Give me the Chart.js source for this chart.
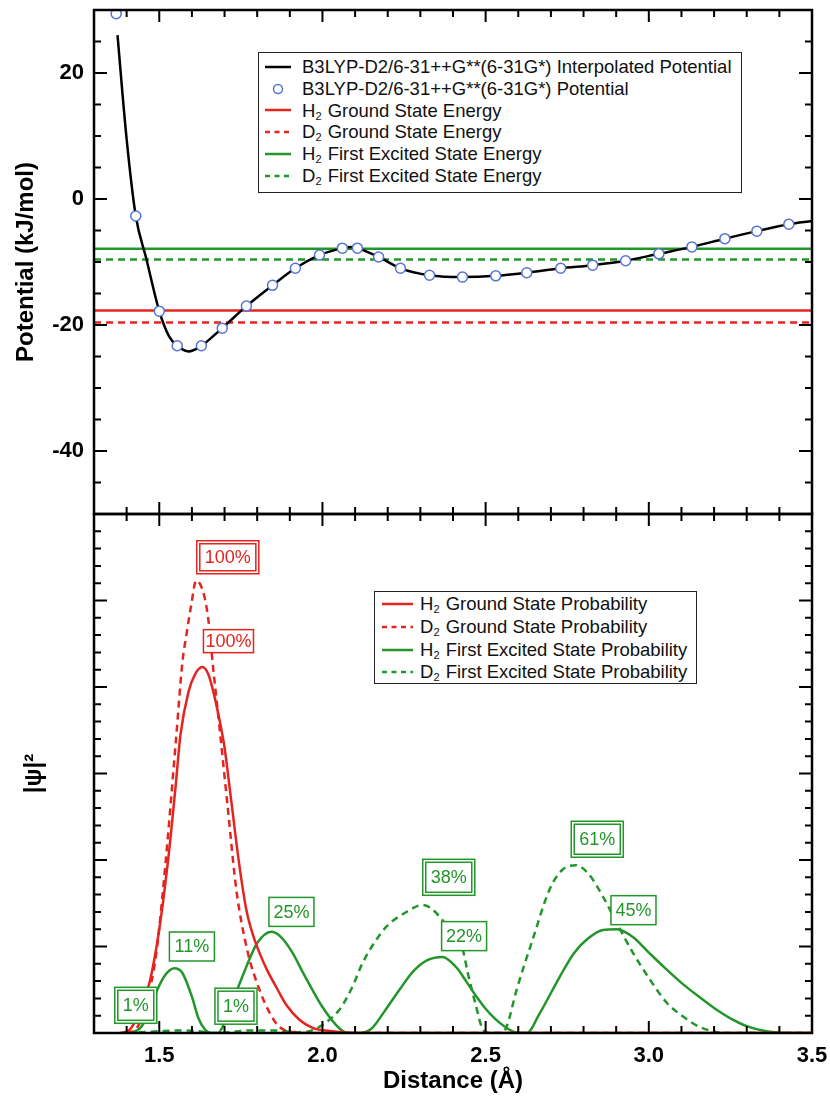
<!DOCTYPE html>
<html>
<head>
<meta charset="utf-8">
<script src="https://cdn.jsdelivr.net/npm/chart.js@4.4.1/dist/chart.umd.min.js"></script>
<style>
  html, body { margin: 0; padding: 0; background: #fff; }
  body { width: 830px; height: 1103px; position: relative; overflow: hidden; font-family: "Liberation Sans", Arial, sans-serif; }
  canvas { position: absolute; left: 0; }
  #potCanvas { top: 0; }
  #probCanvas { top: 504px; }
  .legend { position: absolute; background: #fff; border: 1.5px solid #222; box-sizing: border-box; font-size: 18.5px; color: #111; }
  .legend .row { display: flex; align-items: center; white-space: nowrap; }
  .legend sub { font-size: 11px; vertical-align: -3px; line-height: 0; margin-right: 1px; }
  #potLegend { left: 258px; top: 52px; width: 484px; height: 141px; padding-top: 3px; }
  #potLegend .row { height: 21.8px; }
  #potLegend svg { margin: 0 11px 0 6px; }
  #probLegend { left: 374px; top: 591px; width: 323px; height: 93px; padding-top: 1px; }
  #probLegend .row { height: 22.7px; }
  #probLegend svg { margin: 0 7px 0 7px; }
</style>
</head>
<body>
<canvas id="potCanvas" width="830" height="530"></canvas>
<canvas id="probCanvas" width="830" height="599"></canvas>
<div id="potLegend" class="legend"></div>
<div id="probLegend" class="legend"></div>
<script>
// dados (Å, kJ/mol)
const pontosPotencial = [
  [1.368, 29.4], [1.428, -2.7], [1.500, -17.8], [1.555, -23.3], [1.629, -23.3], [1.693, -20.5],
  [1.767, -17.0], [1.847, -13.7], [1.917, -11.0], [1.991, -8.9], [2.061, -7.8], [2.107, -7.8],
  [2.172, -9.2], [2.239, -11.0], [2.328, -12.1], [2.429, -12.4], [2.531, -12.2], [2.626, -11.7],
  [2.730, -11.0], [2.828, -10.5], [2.929, -9.8], [3.031, -8.7], [3.132, -7.6], [3.233, -6.3],
  [3.331, -5.1], [3.429, -4.0]
];
const curvaInterpolada = [
  [1.372, 26.0], [1.40, 9.5], [1.428, -2.7], [1.46, -9.4], [1.50, -17.8], [1.53, -21.8],
  [1.555, -23.3], [1.59, -24.2], [1.629, -23.3], [1.66, -22.0], [1.693, -20.5], [1.767, -17.0],
  [1.847, -13.7], [1.917, -11.0], [1.991, -8.9], [2.061, -7.8], [2.085, -7.6], [2.107, -7.8],
  [2.172, -9.2], [2.239, -11.0], [2.328, -12.1], [2.429, -12.4], [2.531, -12.2], [2.626, -11.7],
  [2.730, -11.0], [2.828, -10.5], [2.929, -9.8], [3.031, -8.7], [3.132, -7.6], [3.233, -6.3],
  [3.331, -5.1], [3.429, -4.0], [3.5, -3.5]
];
const niveis = { h2Fund: -17.7, d2Fund: -19.6, h2Exc: -7.9, d2Exc: -9.6 };

// |psi|^2 (unidades arbitrárias)
const probH2Fund = [
  [1.38, 0], [1.41, 0.04], [1.44, 0.25], [1.47, 0.58], [1.50, 1.2], [1.53, 2.1], [1.55, 2.85],
  [1.565, 3.45], [1.59, 3.95], [1.61, 4.15], [1.632, 4.23], [1.65, 4.15], [1.664, 3.97],
  [1.684, 3.63], [1.70, 3.3], [1.72, 2.7], [1.745, 1.95], [1.767, 1.42], [1.79, 1.1],
  [1.81, 0.9], [1.83, 0.73], [1.86, 0.52], [1.89, 0.32], [1.93, 0.15], [1.97, 0.06],
  [2.03, 0.02], [2.10, 0], [3.5, 0]
];
const probD2Fund = [
  [1.40, 0], [1.43, 0.05], [1.46, 0.35], [1.49, 0.9], [1.52, 2.0], [1.552, 3.43], [1.571, 4.29],
  [1.583, 4.6], [1.598, 4.95], [1.613, 5.23], [1.638, 5.05], [1.653, 4.7], [1.663, 4.3],
  [1.684, 3.55], [1.71, 2.6], [1.736, 1.66], [1.77, 0.95], [1.807, 0.5], [1.84, 0.22],
  [1.868, 0.07], [1.92, 0.01], [2.0, 0], [3.5, 0]
];
const probH2Exc = [
  [1.40, 0], [1.44, 0.05], [1.47, 0.25], [1.494, 0.5], [1.52, 0.68], [1.546, 0.75], [1.57, 0.7],
  [1.60, 0.42], [1.62, 0.17], [1.64, 0.04], [1.66, 0], [1.68, 0], [1.70, 0.12], [1.72, 0.32],
  [1.745, 0.56], [1.776, 0.85], [1.80, 1.04], [1.843, 1.17], [1.87, 1.12], [1.908, 0.93],
  [1.94, 0.7], [1.969, 0.5], [2.00, 0.3], [2.04, 0.1], [2.07, 0.01], [2.11, 0], [2.15, 0.05],
  [2.19, 0.25], [2.236, 0.5], [2.28, 0.72], [2.32, 0.84], [2.368, 0.88], [2.41, 0.76],
  [2.44, 0.6], [2.47, 0.43], [2.50, 0.28], [2.53, 0.16], [2.56, 0.07], [2.59, 0.01], [2.626, 0],
  [2.666, 0.23], [2.727, 0.65], [2.77, 0.92], [2.81, 1.08], [2.859, 1.19], [2.902, 1.2],
  [2.951, 1.11], [3.00, 0.93], [3.05, 0.75], [3.10, 0.58], [3.15, 0.43], [3.20, 0.29],
  [3.25, 0.17], [3.30, 0.08], [3.36, 0.02], [3.42, 0], [3.5, 0]
];
const probD2Exc = [
  [1.40, 0], [1.45, 0.01], [1.50, 0.02], [1.56, 0.03], [1.62, 0.02], [1.66, 0], [1.72, 0.01],
  [1.78, 0.03], [1.85, 0.03], [1.92, 0.01], [1.96, 0.02], [1.99, 0.07], [2.052, 0.27],
  [2.09, 0.52], [2.123, 0.81], [2.16, 1.05], [2.196, 1.23], [2.258, 1.4], [2.307, 1.48],
  [2.33, 1.45], [2.36, 1.34], [2.39, 1.19], [2.43, 0.96], [2.445, 0.7], [2.47, 0.32],
  [2.488, 0.07], [2.51, 0], [2.55, 0], [2.564, 0.07], [2.595, 0.5], [2.644, 1.08],
  [2.696, 1.66], [2.736, 1.89], [2.776, 1.94], [2.813, 1.85], [2.859, 1.58], [2.902, 1.27],
  [2.951, 0.93], [3.003, 0.62], [3.055, 0.35], [3.105, 0.19], [3.156, 0.07], [3.21, 0.01],
  [3.25, 0], [3.5, 0]
];

// rótulos de porcentagem (posição em unidades dos eixos)
const rotulosPct = [
  { texto: "100%", x: 1.710, y: 5.50, iso: "D2", estado: "fund" },
  { texto: "100%", x: 1.712, y: 4.53, iso: "H2", estado: "fund" },
  { texto: "1%",   x: 1.428, y: 0.32, iso: "D2", estado: "exc" },
  { texto: "11%",  x: 1.600, y: 1.00, iso: "H2", estado: "exc" },
  { texto: "1%",   x: 1.735, y: 0.31, iso: "D2", estado: "exc" },
  { texto: "25%",  x: 1.905, y: 1.40, iso: "H2", estado: "exc" },
  { texto: "38%",  x: 2.387, y: 1.80, iso: "D2", estado: "exc" },
  { texto: "22%",  x: 2.434, y: 1.12, iso: "H2", estado: "exc" },
  { texto: "61%",  x: 2.842, y: 2.24, iso: "D2", estado: "exc" },
  { texto: "45%",  x: 2.953, y: 1.42, iso: "H2", estado: "exc" }
];

const VERMELHO = "#e52420", VERDE = "#22962a", AZUL = "#5573d6";
const FONTE = '"Liberation Sans", Arial, sans-serif';
const X_MIN = 1.3, X_MAX = 3.5;

const pts = arr => arr.map(([x, y]) => ({ x, y }));
const nivel = v => [{ x: X_MIN, y: v }, { x: X_MAX, y: v }];
const ehMaior = (v, passo) => Math.abs(v / passo - Math.round(v / passo)) < 1e-6;
// tira o recuo que o Chart.js reserva para meio rótulo nas pontas
const semRecuo = (larg, alt) => s => {
  if (larg) s.width = larg;
  if (alt) s.height = alt;
  s.paddingTop = 0; s.paddingBottom = 0; s.paddingLeft = 0; s.paddingRight = 0;
};

// moldura + marcas para dentro nos quatro lados
const pluginMoldura = {
  id: "moldura",
  afterDatasetsDraw(chart, args, opts) {
    const { ctx, chartArea: a, scales: { x, y } } = chart;
    ctx.save();
    ctx.strokeStyle = "#000";
    ctx.lineWidth = 2;
    ctx.beginPath();
    x.ticks.forEach(t => {
      const px = x.getPixelForValue(t.value);
      const len = ehMaior(t.value, opts.xMaior) ? 12 : 7;
      ctx.moveTo(px, a.bottom); ctx.lineTo(px, a.bottom - len);
      ctx.moveTo(px, a.top); ctx.lineTo(px, a.top + len);
    });
    y.ticks.forEach(t => {
      const py = y.getPixelForValue(t.value);
      const len = ehMaior(t.value, opts.yMaior) ? 13 : 7;
      ctx.moveTo(a.left, py); ctx.lineTo(a.left + len, py);
      ctx.moveTo(a.right, py); ctx.lineTo(a.right - len, py);
    });
    ctx.stroke();
    ctx.lineWidth = 2.5;
    ctx.strokeRect(a.left, a.top, a.right - a.left, a.bottom - a.top);
    ctx.restore();
  }
};

const pluginRotulos = {
  id: "rotulos",
  afterDatasetsDraw(chart) {
    const { ctx, scales: { x, y } } = chart;
    ctx.save();
    ctx.font = "18px " + FONTE;
    ctx.textAlign = "center";
    ctx.textBaseline = "middle";
    ctx.lineWidth = 1.5;
    rotulosPct.forEach(r => {
      const fund = r.estado === "fund";
      const cor = fund ? VERMELHO : VERDE;
      const duplo = r.iso === "D2";
      const cx = x.getPixelForValue(r.x), cy = y.getPixelForValue(r.y);
      const tw = ctx.measureText(r.texto).width;
      const w = duplo ? tw + 16 : Math.max(tw + 4, 45);
      const h = duplo ? (fund ? 33 : 36) : (fund ? 23 : 29);
      ctx.fillStyle = "#fff";
      ctx.fillRect(cx - w / 2, cy - h / 2, w, h);
      ctx.strokeStyle = cor;
      ctx.strokeRect(cx - w / 2, cy - h / 2, w, h);
      if (duplo) ctx.strokeRect(cx - w / 2 + 3, cy - h / 2 + 3, w - 6, h - 6);
      ctx.fillStyle = cor;
      ctx.fillText(r.texto, cx, cy + 1);
    });
    ctx.restore();
  }
};

const linha = (label, data, cor, tracejado, ordem) => ({
  label, data, borderColor: cor, borderWidth: 2.5, borderDash: tracejado ? [7, 5] : [],
  pointRadius: 0, cubicInterpolationMode: "monotone", order: ordem
});

const chartPot = new Chart(document.getElementById("potCanvas"), {
  type: "line",
  data: {
    datasets: [
      linha("B3LYP-D2/6-31++G**(6-31G*) Interpolated Potential", pts(curvaInterpolada), "#000", false, 2),
      {
        label: "B3LYP-D2/6-31++G**(6-31G*) Potential", data: pts(pontosPotencial), showLine: false,
        pointRadius: 5, pointBorderColor: AZUL, pointBackgroundColor: "#fff", pointBorderWidth: 1.5, order: 1
      },
      linha("H2 Ground State Energy", nivel(niveis.h2Fund), VERMELHO, false, 3),
      linha("D2 Ground State Energy", nivel(niveis.d2Fund), VERMELHO, true, 4),
      linha("H2 First Excited State Energy", nivel(niveis.h2Exc), VERDE, false, 5),
      linha("D2 First Excited State Energy", nivel(niveis.d2Exc), VERDE, true, 6)
    ]
  },
  options: {
    responsive: false, animation: false,
    layout: { padding: { top: 10, right: 18, bottom: 16, left: 0 } },
    plugins: { legend: { display: false }, tooltip: { enabled: false }, moldura: { xMaior: 0.5, yMaior: 20 } },
    scales: {
      x: { type: "linear", min: X_MIN, max: X_MAX, display: false, ticks: { stepSize: 0.1 },
           afterFit: semRecuo(0, 0) },
      y: {
        min: -50, max: 30,
        ticks: { stepSize: 5, autoSkip: false, padding: 10, color: "#000",
                 font: { size: 22, weight: "bold", family: FONTE },
                 callback: v => (ehMaior(v, 20) ? String(Math.round(v)) : "") },
        grid: { display: false, drawTicks: false }, border: { display: false },
        title: { display: true, text: "Potential (kJ/mol)", color: "#000",
                 font: { size: 24, weight: "bold", family: FONTE }, padding: { top: 12, bottom: 0 } },
        afterFit: semRecuo(94, 0)
      }
    }
  },
  plugins: [pluginMoldura]
});

const chartProb = new Chart(document.getElementById("probCanvas"), {
  type: "line",
  data: {
    datasets: [
      linha("H2 Ground State Probability", pts(probH2Fund), VERMELHO, false, 1),
      linha("D2 Ground State Probability", pts(probD2Fund), VERMELHO, true, 2),
      linha("H2 First Excited State Probability", pts(probH2Exc), VERDE, false, 3),
      linha("D2 First Excited State Probability", pts(probD2Exc), VERDE, true, 4)
    ]
  },
  options: {
    responsive: false, animation: false,
    layout: { padding: { top: 10, right: 18, bottom: 0, left: 0 } },
    plugins: { legend: { display: false }, tooltip: { enabled: false }, moldura: { xMaior: 0.5, yMaior: 1 } },
    scales: {
      x: {
        type: "linear", min: X_MIN, max: X_MAX,
        ticks: { stepSize: 0.1, autoSkip: false, maxRotation: 0, padding: 10, color: "#000",
                 font: { size: 22, weight: "bold", family: FONTE },
                 callback: v => (ehMaior(v, 0.5) ? v.toFixed(1) : "") },
        grid: { display: false, drawTicks: false }, border: { display: false },
        title: { display: true, text: "Distance (Å)", color: "#000",
                 font: { size: 24, weight: "bold", family: FONTE }, padding: { top: 0, bottom: 7 } },
        afterFit: semRecuo(0, 70)
      },
      y: {
        min: 0, max: 6,
        ticks: { stepSize: 0.2, autoSkip: false, callback: () => "" },
        grid: { display: false, drawTicks: false }, border: { display: false },
        title: { display: true, text: "|ψ|²", color: "#000",
                 font: { size: 24, weight: "bold", family: FONTE }, padding: { top: 20, bottom: 0 } },
        afterFit: semRecuo(94, 0)
      }
    }
  },
  plugins: [pluginRotulos, pluginMoldura]
});

// legenda em HTML a partir dos datasets
function montarLegenda(chart, id, larg) {
  const caixa = document.getElementById(id);
  chart.data.datasets.forEach(ds => {
    const row = document.createElement("div");
    row.className = "row";
    let amostra;
    if (ds.showLine === false) {
      amostra = `<svg width="${larg}" height="12"><circle cx="${larg / 2}" cy="6" r="4.5" fill="#fff" stroke="${ds.pointBorderColor}" stroke-width="1.5"/></svg>`;
    } else {
      const dash = ds.borderDash.length ? 'stroke-dasharray="5 4.5"' : "";
      amostra = `<svg width="${larg}" height="12"><line x1="0" y1="6" x2="${larg}" y2="6" stroke="${ds.borderColor}" stroke-width="2.5" ${dash}/></svg>`;
    }
    row.innerHTML = amostra + `<span>${ds.label.replace(/^([HD])2 /, "$1<sub>2</sub> ")}</span>`;
    caixa.appendChild(row);
  });
}
montarLegenda(chartPot, "potLegend", 26);
montarLegenda(chartProb, "probLegend", 31);
</script>
</body>
</html>
